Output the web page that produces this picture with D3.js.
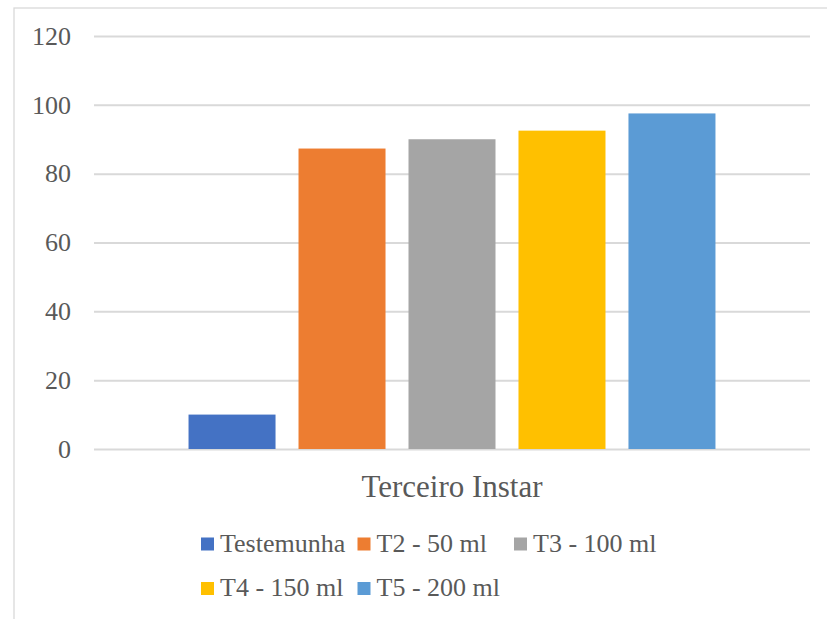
<!DOCTYPE html>
<html>
<head>
<meta charset="utf-8">
<script src="https://cdn.jsdelivr.net/npm/d3@7/dist/d3.min.js"></script>
</head>
<body style="margin:0;background:#fff">
<div id="chart"></div>
<script>
// Category on the x axis
const categories = ["Terceiro Instar"];
// One series per treatment
const seriesNames = ["Testemunha", "T2 - 50 ml", "T3 - 100 ml", "T4 - 150 ml", "T5 - 200 ml"];
const seriesValues = [10, 87.3, 90, 92.5, 97.5];
const seriesColors = ["#4472C4", "#ED7D31", "#A5A5A5", "#FFC000", "#5B9BD5"];
// Y axis ticks
const yTicks = [0, 20, 40, 60, 80, 100, 120];

const FONT = "'Liberation Serif', 'Times New Roman', serif";
const TEXT_COLOR = "#595959";

const W = 827, H = 619;
const plot = { left: 94, right: 810, top: 36, bottom: 449 };

const svg = d3.select("#chart").append("svg")
  .attr("width", W).attr("height", H)
  .style("display", "block")
  .style("font-family", FONT);

svg.append("rect").attr("width", W).attr("height", H).attr("fill", "#fff");

// Chart area border (runs past the visible frame on the right and bottom)
svg.append("rect")
  .attr("x", 14).attr("y", 8)
  .attr("width", W + 20).attr("height", H + 20)
  .attr("fill", "none")
  .attr("stroke", "#D9D9D9")
  .attr("stroke-width", 1.3);

const y = d3.scaleLinear().domain([0, 120]).range([plot.bottom, plot.top]);

const x0 = d3.scaleBand().domain(categories)
  .range([plot.left, plot.right]).paddingInner(0).paddingOuter(0.151);
const x1 = d3.scaleBand().domain(seriesNames)
  .range([0, x0.bandwidth()]).paddingInner(0.209).paddingOuter(0.1045);

// Gridlines and value labels
const yAxis = svg.append("g")
  .attr("transform", `translate(${plot.left},0)`)
  .call(d3.axisLeft(y).tickValues(yTicks)
    .tickSize(-(plot.right - plot.left)).tickPadding(23));
yAxis.attr("font-family", null).attr("font-size", null);
yAxis.select(".domain").remove();
yAxis.selectAll(".tick line")
  .attr("stroke", "#D9D9D9").attr("stroke-width", 2);
yAxis.selectAll(".tick text")
  .attr("fill", TEXT_COLOR)
  .style("font-family", FONT)
  .style("font-size", "26px");

// Bars
const group = svg.append("g");
categories.forEach(cat => {
  const g = group.append("g").attr("transform", `translate(${x0(cat)},0)`);
  g.selectAll("rect")
    .data(seriesNames.map((name, i) => ({ name, value: seriesValues[i], color: seriesColors[i] })))
    .join("rect")
    .attr("x", d => x1(d.name))
    .attr("width", x1.bandwidth())
    .attr("y", d => y(d.value))
    .attr("height", d => y(0) - y(d.value))
    .attr("fill", d => d.color);
});

// Category label
svg.append("g").selectAll("text")
  .data(categories)
  .join("text")
  .attr("x", d => x0(d) + x0.bandwidth() / 2)
  .attr("y", 497)
  .attr("text-anchor", "middle")
  .attr("fill", TEXT_COLOR)
  .style("font-family", FONT)
  .style("font-size", "31px")
  .text(d => d);

// Legend: three columns, wrapping to a second row
const legend = { x: 201, y: 544, colW: 156.5, rowH: 44.5, sw: 13, perRow: 3 };
const items = svg.append("g").selectAll("g")
  .data(seriesNames.map((name, i) => ({ name, color: seriesColors[i], i })))
  .join("g")
  .attr("transform", d => `translate(${legend.x + (d.i % legend.perRow) * legend.colW},${legend.y + Math.floor(d.i / legend.perRow) * legend.rowH})`);
items.append("rect")
  .attr("x", 0).attr("y", -legend.sw / 2)
  .attr("width", legend.sw).attr("height", legend.sw)
  .attr("fill", d => d.color);
items.append("text")
  .attr("x", legend.sw + 6)
  .attr("y", 7.5)
  .attr("fill", TEXT_COLOR)
  .style("font-family", FONT)
  .style("font-size", "26px")
  .text(d => d.name);
</script>
</body>
</html>
